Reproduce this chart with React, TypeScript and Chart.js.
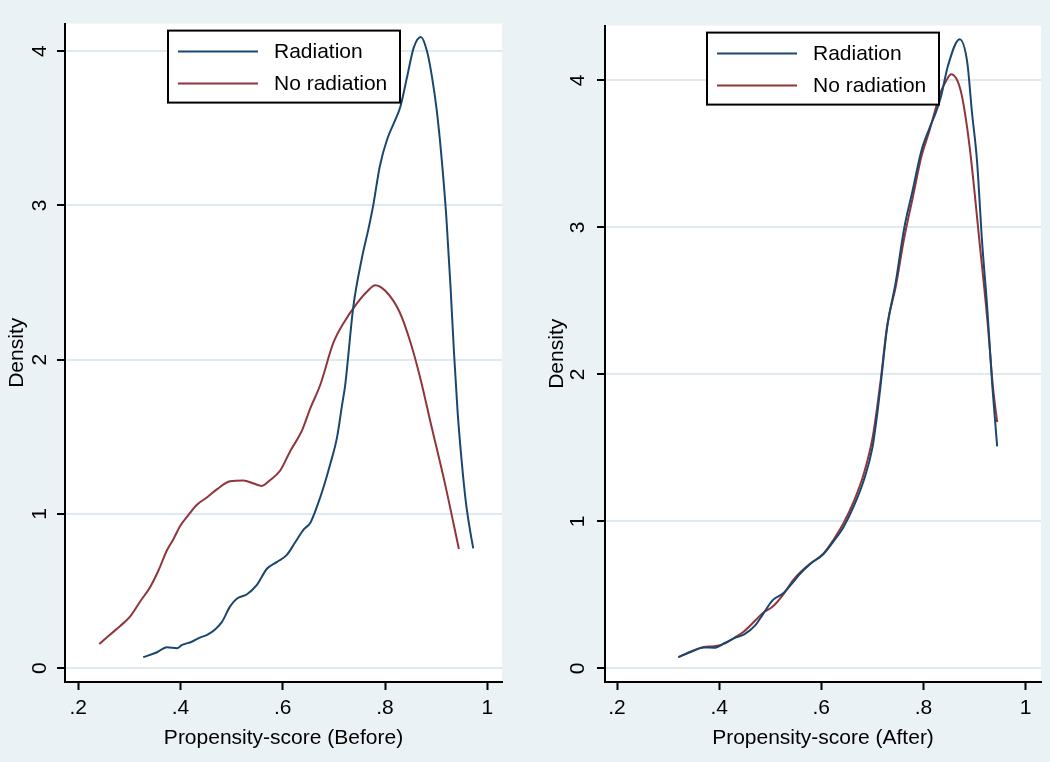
import React, { useEffect, useRef } from "react";
import { Chart, registerables } from "chart.js";

Chart.register(...registerables);

// ---------- data ----------
const seriesLabels = ["Radiation", "No radiation"];

const radBeforeX = [0.327, 0.354, 0.373, 0.393, 0.403, 0.422, 0.439, 0.452, 0.468, 0.481, 0.497, 0.510, 0.530, 0.549, 0.569, 0.588, 0.608, 0.624, 0.641, 0.654, 0.667, 0.680, 0.693, 0.706, 0.716, 0.722, 0.738, 0.755, 0.768, 0.777, 0.790, 0.804, 0.820, 0.830, 0.843, 0.856, 0.870, 0.882, 0.892, 0.901, 0.910, 0.920, 0.928, 0.935, 0.942, 0.950, 0.958, 0.966, 0.9725];
const radBeforeY = [0.072, 0.104, 0.136, 0.130, 0.151, 0.172, 0.200, 0.216, 0.253, 0.301, 0.401, 0.450, 0.480, 0.539, 0.645, 0.688, 0.735, 0.815, 0.900, 0.943, 1.049, 1.176, 1.325, 1.495, 1.707, 1.834, 2.344, 2.662, 2.854, 3.002, 3.257, 3.427, 3.554, 3.639, 3.830, 4.021, 4.091, 4.000, 3.830, 3.620, 3.330, 2.920, 2.480, 2.040, 1.660, 1.340, 1.080, 0.900, 0.777];

const noRadBeforeX = [0.241, 0.263, 0.282, 0.302, 0.321, 0.341, 0.357, 0.373, 0.386, 0.399, 0.416, 0.432, 0.452, 0.471, 0.497, 0.523, 0.543, 0.559, 0.575, 0.595, 0.615, 0.637, 0.654, 0.673, 0.699, 0.719, 0.745, 0.764, 0.781, 0.801, 0.828, 0.850, 0.869, 0.890, 0.917, 0.9445];
const noRadBeforeY = [0.157, 0.221, 0.274, 0.338, 0.433, 0.529, 0.635, 0.762, 0.836, 0.921, 0.996, 1.060, 1.108, 1.159, 1.212, 1.217, 1.197, 1.182, 1.219, 1.282, 1.410, 1.537, 1.686, 1.834, 2.110, 2.238, 2.365, 2.439, 2.483, 2.445, 2.312, 2.110, 1.880, 1.580, 1.200, 0.773];

const radAfterX = [0.320, 0.347, 0.370, 0.390, 0.413, 0.432, 0.449, 0.472, 0.485, 0.505, 0.525, 0.545, 0.558, 0.578, 0.604, 0.624, 0.644, 0.663, 0.683, 0.700, 0.710, 0.716, 0.729, 0.746, 0.762, 0.779, 0.796, 0.812, 0.825, 0.835, 0.848, 0.871, 0.886, 0.895, 0.905, 0.915, 0.925, 0.935, 0.9445];
const radAfterY = [0.076, 0.116, 0.142, 0.140, 0.176, 0.209, 0.231, 0.298, 0.364, 0.464, 0.509, 0.587, 0.642, 0.709, 0.776, 0.864, 0.964, 1.098, 1.276, 1.498, 1.742, 1.920, 2.320, 2.631, 2.987, 3.253, 3.520, 3.676, 3.787, 3.898, 4.098, 4.280, 4.120, 3.787, 3.453, 2.898, 2.453, 1.920, 1.510];

const noRadAfterX = [0.320, 0.347, 0.370, 0.390, 0.413, 0.432, 0.449, 0.472, 0.485, 0.505, 0.525, 0.545, 0.558, 0.578, 0.604, 0.624, 0.644, 0.663, 0.683, 0.700, 0.710, 0.716, 0.729, 0.746, 0.762, 0.779, 0.796, 0.812, 0.825, 0.835, 0.845, 0.854, 0.873, 0.890, 0.910, 0.926, 0.936, 0.9445];
const noRadAfterY = [0.076, 0.116, 0.145, 0.150, 0.172, 0.212, 0.253, 0.330, 0.375, 0.420, 0.500, 0.600, 0.650, 0.712, 0.780, 0.875, 0.990, 1.130, 1.320, 1.560, 1.790, 1.950, 2.330, 2.600, 2.920, 3.200, 3.480, 3.660, 3.820, 3.930, 4.000, 4.042, 3.931, 3.564, 2.898, 2.342, 1.920, 1.675];

const xTickValues = [0.2, 0.4, 0.6, 0.8, 1];
const xTickLabels = [".2", ".4", ".6", ".8", "1"];
const yTickValues = [0, 1, 2, 3, 4];
const yTickLabels = ["0", "1", "2", "3", "4"];

const xTitleBefore = "Propensity-score (Before)";
const xTitleAfter = "Propensity-score (After)";
const yTitle = "Density";

// ---------- styles ----------
const NAVY = "#1a476f";
const MAROON = "#90353b";
const BG = "#eaf2f6";
const GRID = "#dfeaf0";
const FONT = '"Liberation Sans", Arial, Helvetica, sans-serif';

const plotBgPlugin = {
  id: "plotBg",
  beforeDraw(chart: any) {
    const { ctx, chartArea } = chart;
    ctx.save();
    ctx.fillStyle = "#ffffff";
    ctx.fillRect(chartArea.left, chartArea.top, chartArea.right - chartArea.left, chartArea.bottom - chartArea.top);
    ctx.restore();
  },
};

const boxLegendPlugin = {
  id: "boxLegend",
  afterDatasetsDraw(chart: any, _args: any, opts: any) {
    const { ctx, chartArea } = chart;
    const w = opts.width;
    const h = opts.height;
    const cx = (chartArea.left + chartArea.right) / 2;
    const x0 = Math.round(cx - w / 2);
    const y0 = chartArea.top + opts.offsetTop;
    ctx.save();
    ctx.fillStyle = "#ffffff";
    ctx.fillRect(x0, y0, w, h);
    ctx.strokeStyle = "#000000";
    ctx.lineWidth = 2;
    ctx.strokeRect(x0, y0, w, h);
    chart.data.datasets.forEach((ds: any, i: number) => {
      const y = y0 + opts.rowStart + i * opts.rowGap;
      ctx.strokeStyle = ds.borderColor;
      ctx.lineWidth = 2;
      ctx.beginPath();
      ctx.moveTo(x0 + 10, y);
      ctx.lineTo(x0 + 90, y);
      ctx.stroke();
      ctx.fillStyle = "#000000";
      ctx.font = `21px ${FONT}`;
      ctx.textBaseline = "middle";
      ctx.textAlign = "left";
      ctx.fillText(ds.label, x0 + opts.textX, y + 1);
    });
    ctx.restore();
  },
};

function toPoints(xs: number[], ys: number[]) {
  return xs.map((x, i) => ({ x, y: ys[i] }));
}

type PanelCfg = {
  radX: number[];
  radY: number[];
  noX: number[];
  noY: number[];
  xMin: number;
  xMax: number;
  yMin: number;
  yMax: number;
  xTitle: string;
  padLeft: number;
  padRight: number;
  yTickPad: number;
};

function makeConfig(p: PanelCfg): any {
  return {
    type: "line",
    data: {
      datasets: [
        {
          label: seriesLabels[0],
          data: toPoints(p.radX, p.radY),
          borderColor: NAVY,
          borderWidth: 2,
          pointRadius: 0,
          fill: false,
          cubicInterpolationMode: "monotone",
        },
        {
          label: seriesLabels[1],
          data: toPoints(p.noX, p.noY),
          borderColor: MAROON,
          borderWidth: 2,
          pointRadius: 0,
          fill: false,
          cubicInterpolationMode: "monotone",
        },
      ],
    },
    options: {
      animation: false,
      responsive: false,
      devicePixelRatio: 1,
      layout: { padding: { left: p.padLeft, right: p.padRight, top: 12, bottom: 0 } },
      plugins: {
        legend: { display: false },
        tooltip: { enabled: false },
        boxLegend: { width: 232, height: 72, offsetTop: 7, rowStart: 21, rowGap: 32, textX: 106 },
      },
      scales: {
        x: {
          type: "linear",
          position: "bottom",
          min: p.xMin,
          max: p.xMax,
          afterBuildTicks: (s: any) => {
            s.ticks = xTickValues.map((v) => ({ value: v }));
          },
          afterFit: (s: any) => {
            s.height = 80;
          },
          ticks: {
            autoSkip: false,
            maxRotation: 0,
            minRotation: 0,
            padding: 6,
            color: "#000",
            font: { family: FONT, size: 21 },
            callback: (_v: any, i: number) => xTickLabels[i],
          },
          grid: {
            drawOnChartArea: false,
            drawTicks: true,
            tickLength: 8,
            tickWidth: 2,
            tickColor: "#000",
          },
          border: { display: true, color: "#000", width: 2 },
          title: {
            display: true,
            text: p.xTitle,
            color: "#000",
            font: { family: FONT, size: 21 },
            padding: { top: 4, bottom: 11 },
          },
        },
        y: {
          type: "linear",
          position: "left",
          min: p.yMin,
          max: p.yMax,
          afterBuildTicks: (s: any) => {
            s.ticks = yTickValues.map((v) => ({ value: v }));
          },
          afterFit: (s: any) => {
            s.width = 65;
          },
          ticks: {
            autoSkip: false,
            minRotation: 90,
            maxRotation: 90,
            crossAlign: "center",
            padding: p.yTickPad,
            color: "#000",
            font: { family: FONT, size: 21 },
            callback: (_v: any, i: number) => yTickLabels[i],
          },
          grid: {
            color: GRID,
            lineWidth: 2,
            drawTicks: true,
            tickLength: 8,
            tickWidth: 2,
            tickColor: "#000",
          },
          border: { display: true, color: "#000", width: 2 },
          title: {
            display: true,
            text: yTitle,
            color: "#000",
            font: { family: FONT, size: 21 },
            padding: { top: 5, bottom: 0 },
          },
        },
      },
    },
    plugins: [plotBgPlugin, boxLegendPlugin],
  };
}

function Panel({ cfg, left }: { cfg: PanelCfg; left: number }) {
  const ref = useRef<HTMLCanvasElement | null>(null);
  useEffect(() => {
    if (!ref.current) return;
    const chart = new Chart(ref.current, makeConfig(cfg));
    return () => chart.destroy();
  }, []);
  return (
    <div style={{ position: "absolute", left, top: 0, width: 525, height: 762 }}>
      <canvas ref={ref} width={525} height={762} style={{ display: "block", width: 525, height: 762 }} />
    </div>
  );
}

const beforeCfg: PanelCfg = {
  radX: radBeforeX,
  radY: radBeforeY,
  noX: noRadBeforeX,
  noY: noRadBeforeY,
  xMin: 0.174,
  xMax: 1.0288,
  yMin: -0.089,
  yMax: 4.178,
  xTitle: xTitleBefore,
  padLeft: 0,
  padRight: 23,
  yTickPad: 11,
};

const afterCfg: PanelCfg = {
  radX: radAfterX,
  radY: radAfterY,
  noX: noRadAfterX,
  noY: noRadAfterY,
  xMin: 0.1765,
  xMax: 1.0303,
  yMin: -0.093,
  yMax: 4.373,
  xTitle: xTitleAfter,
  padLeft: 15,
  padRight: 9,
  yTickPad: 13,
};

export default function App() {
  return (
    <div
      style={{
        position: "fixed",
        left: 0,
        top: 0,
        width: 1050,
        height: 762,
        background: BG,
        overflow: "hidden",
      }}
    >
      <Panel cfg={beforeCfg} left={0} />
      <Panel cfg={afterCfg} left={525} />
    </div>
  );
}
